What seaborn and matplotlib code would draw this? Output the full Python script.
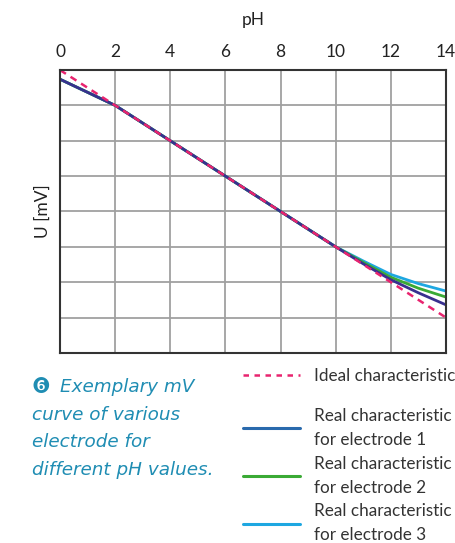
import numpy as np
import pandas as pd
import matplotlib
matplotlib.use("Agg")
import matplotlib.pyplot as plt
import seaborn as sns
from matplotlib.lines import Line2D

# Values (y in grid units, 0 = bottom, 8 = top)
ph = [0, 1, 2, 4, 6, 8, 10, 11, 12, 13, 14]
ideal = [8.0, 7.5, 7.0, 6.0, 5.0, 4.0, 3.0, 2.5, 2.0, 1.5, 1.0]
electrode_1 = [7.74, 7.37, 7.0, 6.0, 5.0, 4.0, 3.0, 2.52, 2.07, 1.7, 1.36]
electrode_2 = [7.74, 7.37, 7.0, 6.0, 5.0, 4.0, 3.0, 2.56, 2.14, 1.83, 1.58]
electrode_3 = [7.74, 7.37, 7.0, 6.0, 5.0, 4.0, 3.0, 2.6, 2.22, 1.96, 1.75]

ph_ticks = [0, 2, 4, 6, 8, 10, 12, 14]
ideal_label = "Ideal characteristic"
real_labels = ["Real characteristic\nfor electrode 1",
               "Real characteristic\nfor electrode 2",
               "Real characteristic\nfor electrode 3"]
caption_lines = ["Exemplary mV", "curve of various", "electrode for",
                 "different pH values."]

pink = "#e8246f"
navy = "#38308f"
blue = "#2a6aad"
green = "#3aaa35"
cyan = "#1ea7e1"
teal = "#1f8db3"

sns.set_theme(style="white")
plt.rcParams["font.family"] = ["Lato", "DejaVu Sans"]

df = pd.DataFrame({"pH": ph, "ideal": ideal, "e1": electrode_1,
                   "e2": electrode_2, "e3": electrode_3})

fig = plt.figure(figsize=(4.56, 5.43), dpi=100)
ax = fig.add_axes([0.1316, 0.350, 0.8465, 0.521])

sns.lineplot(data=df, x="pH", y="e3", color=cyan, lw=2, ax=ax)
sns.lineplot(data=df, x="pH", y="e2", color=green, lw=2, ax=ax)
sns.lineplot(data=df, x="pH", y="e1", color=navy, lw=2, ax=ax)
sns.lineplot(data=df, x="pH", y="ideal", color=pink, lw=1.8, ax=ax)
ax.lines[-1].set_dashes([2.8, 2.2])

ax.set_xlim(0, 14)
ax.set_ylim(0, 8)
ax.set_xticks(ph_ticks)
ax.set_yticks(range(0, 9))
ax.set_yticklabels([])
ax.xaxis.tick_top()
ax.xaxis.set_label_position("top")
ax.tick_params(axis="x", length=0, pad=7, labelsize=12.5, colors="#222222")
ax.tick_params(axis="y", length=0)
ax.grid(True, color="#a0a0a0", lw=1.3)
for s in ax.spines.values():
    s.set_color("#333333")
    s.set_linewidth(1.5)
ax.set_xlabel("pH", fontsize=12.5, color="#222222", labelpad=14)
ax.set_ylabel("U [mV]", fontsize=12.5, color="#222222", labelpad=3)

# caption with numbered circle
fig.text(0.068, 0.288, "\u277b", fontsize=15, color=teal, va="center",
         family="DejaVu Sans")
for i, line in enumerate(caption_lines):
    x0 = 0.131 if i == 0 else 0.070
    fig.text(x0, 0.287 - i * 0.0506, line, fontsize=13.2, color=teal,
             style="italic", va="center", family="DejaVu Sans")

# legend: ideal line on its own, then the three electrodes
fig.legend([Line2D([], [], color=pink, lw=1.8, dashes=[2.2, 2.2])],
           [ideal_label], loc="upper left",
           bbox_to_anchor=(0.533, 0.322), frameon=False, fontsize=12.3,
           handlelength=3.35, handletextpad=0.8, borderaxespad=0,
           borderpad=0, labelcolor="#333333")
real_handles = [Line2D([], [], color=blue, lw=2.2),
                Line2D([], [], color=green, lw=2.2),
                Line2D([], [], color=cyan, lw=2.2)]
leg2 = fig.legend(real_handles, real_labels, loc="upper left",
                  bbox_to_anchor=(0.533, 0.2485), frameon=False, fontsize=12.3,
                  handlelength=3.35, handletextpad=0.8, labelspacing=0.46,
                  borderaxespad=0, borderpad=0, labelcolor="#333333")
for t in leg2.get_texts():
    t.set_linespacing(1.6)

fig.savefig("out.png", dpi=100)
